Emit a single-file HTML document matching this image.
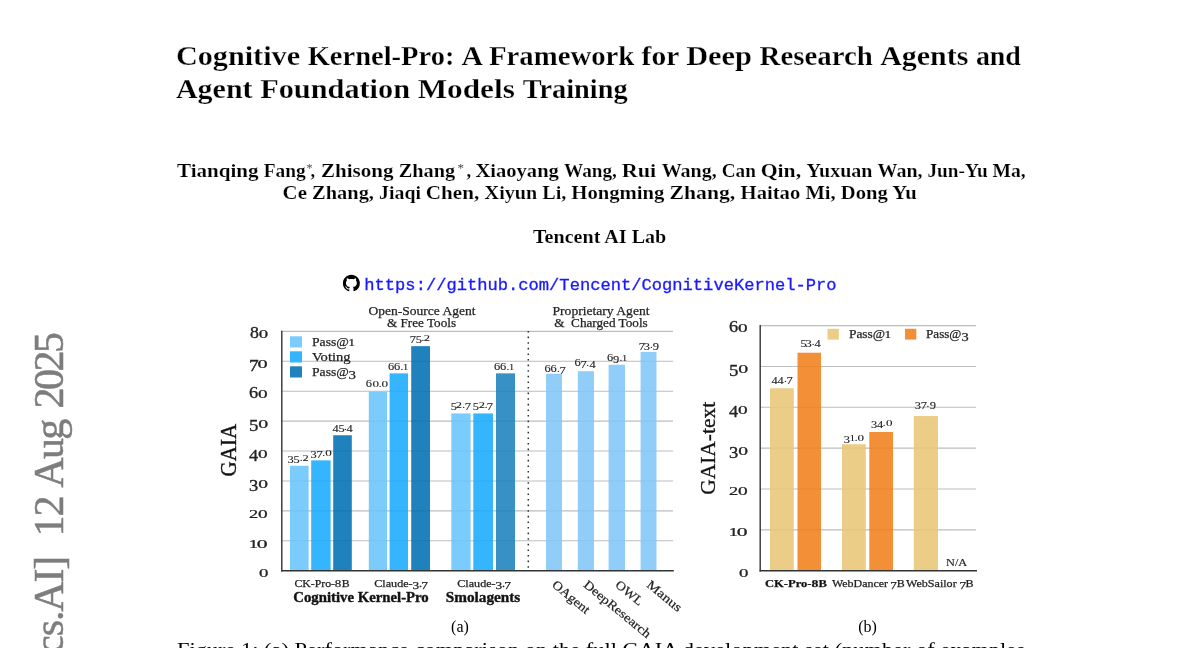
<!DOCTYPE html>
<html lang="en">
<head>
<meta charset="utf-8">
<title>Cognitive Kernel-Pro</title>
<style>
html,body{margin:0;padding:0;background:#fff;overflow:hidden}
body{width:1200px;height:648px;position:relative;font-family:"Liberation Serif", serif}
svg{display:block;position:absolute;left:0;top:0;font-family:"Liberation Serif", serif}
.t{position:absolute;white-space:nowrap;line-height:0;height:0;color:#222;transform-origin:0 0;-webkit-text-stroke:.25px #222}
.t.m{transform-origin:50% 0}
.t.e{transform-origin:100% 0}
.t span{display:inline-block;line-height:0;transform-origin:50% var(--b)}
.n0{margin:0 0.040em;transform:scale(1.16,.77)}
.n1{margin:0 -0.045em;transform:scale(1.0,.77)}
.n2{margin:0 0.015em;transform:scale(1.1,.77)}
.n3{margin:0 0.010em;transform:translateY(.215em) scaleX(1.1)}
.n4{margin:0 0.018em;transform:translateY(.215em) scaleX(1.1)}
.n5{margin:0 0.000em;transform:translateY(.215em) scaleX(1.1)}
.n6{margin:0 0.018em;transform:scaleX(1.1)}
.n7{margin:0 -0.012em;transform:translateY(.215em) scaleX(1.1)}
.n8{margin:0 0.032em;transform:scaleX(1.1)}
.n9{margin:0 0.018em;transform:translateY(.215em) scaleX(1.1)}
</style>
</head>
<body>
<svg width="1200" height="648" viewBox="0 0 1200 648">
<rect width="1200" height="648" fill="#fff"/>
<g id="paper">
<text y="64.8" font-size="27.5" font-weight="bold" stroke="#fff" stroke-width="0.25" xml:space="preserve"><tspan x="175.9" textLength="131.75" lengthAdjust="spacingAndGlyphs">Cognitive </tspan><tspan x="307.65" textLength="153.95" lengthAdjust="spacingAndGlyphs">Kernel-Pro: </tspan><tspan x="461.6" textLength="27.3" lengthAdjust="spacingAndGlyphs">A </tspan><tspan x="488.9" textLength="152.7" lengthAdjust="spacingAndGlyphs">Framework </tspan><tspan x="641.6" textLength="44.6" lengthAdjust="spacingAndGlyphs">for </tspan><tspan x="686.2" textLength="73.4" lengthAdjust="spacingAndGlyphs">Deep </tspan><tspan x="759.6" textLength="120.55" lengthAdjust="spacingAndGlyphs">Research </tspan><tspan x="880.15" textLength="95.75" lengthAdjust="spacingAndGlyphs">Agents </tspan><tspan x="975.9" textLength="45" lengthAdjust="spacingAndGlyphs">and</tspan></text>
<text y="98.2" font-size="27.5" font-weight="bold" stroke="#fff" stroke-width="0.25" xml:space="preserve"><tspan x="175.9" textLength="84.25" lengthAdjust="spacingAndGlyphs">Agent </tspan><tspan x="260.15" textLength="157.5" lengthAdjust="spacingAndGlyphs">Foundation </tspan><tspan x="417.65" textLength="105.0" lengthAdjust="spacingAndGlyphs">Models </tspan><tspan x="522.65" textLength="105.0" lengthAdjust="spacingAndGlyphs">Training</tspan></text>
<text y="176.5" font-size="18.3" font-weight="bold" stroke="#fff" stroke-width=".15" xml:space="preserve"><tspan x="177" textLength="86.75" lengthAdjust="spacingAndGlyphs">Tianqing </tspan><tspan x="263.75" textLength="42" lengthAdjust="spacingAndGlyphs">Fang</tspan><tspan x="306.6" dy="-5" font-size="12" font-weight="normal" fill="#444" stroke="none">*</tspan><tspan x="310.6" dy="5">, </tspan><tspan x="321" textLength="77.75" lengthAdjust="spacingAndGlyphs">Zhisong </tspan><tspan x="398.75" textLength="56.5" lengthAdjust="spacingAndGlyphs">Zhang</tspan><tspan x="457.6" dy="-5" font-size="13" font-weight="normal" fill="#444" stroke="none">*</tspan><tspan x="466.4" dy="5">, </tspan><tspan x="475.5" textLength="88.5" lengthAdjust="spacingAndGlyphs">Xiaoyang </tspan><tspan x="564" textLength="57.7" lengthAdjust="spacingAndGlyphs">Wang, </tspan><tspan x="621.7" textLength="40.0" lengthAdjust="spacingAndGlyphs">Rui </tspan><tspan x="661.7" textLength="60.0" lengthAdjust="spacingAndGlyphs">Wang, </tspan><tspan x="721.7" textLength="39.0" lengthAdjust="spacingAndGlyphs">Can </tspan><tspan x="760.7" textLength="45.8" lengthAdjust="spacingAndGlyphs">Qin, </tspan><tspan x="806.5" textLength="71.0" lengthAdjust="spacingAndGlyphs">Yuxuan </tspan><tspan x="877.5" textLength="50.0" lengthAdjust="spacingAndGlyphs">Wan, </tspan><tspan x="927.5" textLength="65.0" lengthAdjust="spacingAndGlyphs">Jun-Yu </tspan><tspan x="992.5" textLength="33.25" lengthAdjust="spacingAndGlyphs">Ma,</tspan></text>
<text y="198.5" font-size="18.3" font-weight="bold" stroke="#fff" stroke-width="0.15" xml:space="preserve"><tspan x="282.6" textLength="29.5" lengthAdjust="spacingAndGlyphs">Ce </tspan><tspan x="312.1" textLength="67.0" lengthAdjust="spacingAndGlyphs">Zhang, </tspan><tspan x="379.1" textLength="46.75" lengthAdjust="spacingAndGlyphs">Jiaqi </tspan><tspan x="425.85" textLength="58.75" lengthAdjust="spacingAndGlyphs">Chen, </tspan><tspan x="484.6" textLength="86.7" lengthAdjust="spacingAndGlyphs">Xiyun Li, </tspan><tspan x="571.3" textLength="98.3" lengthAdjust="spacingAndGlyphs">Hongming </tspan><tspan x="669.6" textLength="71" lengthAdjust="spacingAndGlyphs">Zhang, </tspan><tspan x="740.6" textLength="64.8" lengthAdjust="spacingAndGlyphs">Haitao </tspan><tspan x="805.4" textLength="35.45" lengthAdjust="spacingAndGlyphs">Mi, </tspan><tspan x="840.85" textLength="75.75" lengthAdjust="spacingAndGlyphs">Dong Yu</tspan></text>
<text x="533.0" y="243" font-size="18.3" text-anchor="start" font-weight="bold" textLength="133.3" lengthAdjust="spacingAndGlyphs" stroke="#fff" stroke-width=".15">Tencent AI Lab</text>
<g transform="translate(342.9,274.8) scale(1.06)"><path fill="#000" d="M8 0C3.58 0 0 3.58 0 8c0 3.54 2.29 6.53 5.47 7.59.4.07.55-.17.55-.38 0-.19-.01-.82-.01-1.49-2.01.37-2.53-.49-2.69-.94-.09-.23-.48-.94-.82-1.13-.28-.15-.68-.52-.01-.53.63-.01 1.08.58 1.23.82.72 1.21 1.87.87 2.33.66.07-.52.28-.87.51-1.07-1.78-.2-3.64-.89-3.64-3.95 0-.87.31-1.59.82-2.15-.08-.2-.36-1.02.08-2.12 0 0 .67-.21 2.2.82.64-.18 1.32-.27 2-.27s1.36.09 2 .27c1.53-1.04 2.2-.82 2.2-.82.44 1.1.16 1.92.08 2.12.51.56.82 1.27.82 2.15 0 3.07-1.87 3.75-3.65 3.95.29.25.54.73.54 1.48 0 1.07-.01 1.93-.01 2.2 0 .21.15.46.55.38A8.01 8.01 0 0 0 16 8c0-4.42-3.58-8-8-8z"/></g>
<text x="364.3" y="290.3" font-size="16.2" text-anchor="start" fill="#1a1aff" textLength="472.3" lengthAdjust="spacingAndGlyphs" font-family='"Liberation Mono", monospace' stroke="#1a1aff" stroke-width=".3">https://github.com/Tencent/CognitiveKernel-Pro</text>
<text x="460" y="632" font-size="16" text-anchor="middle">(a)</text>
<text x="867.5" y="632" font-size="16" text-anchor="middle">(b)</text>
<text x="177" y="656" font-size="19.6" text-anchor="start" textLength="848" lengthAdjust="spacingAndGlyphs">Figure 1: (a) Performance comparison on the full GAIA development set (number of examples</text>
<text transform="translate(62.8,0) rotate(-90)" font-size="42" fill="#7d7d7d" stroke="#7d7d7d" stroke-width=".5" xml:space="preserve"><tspan x="-990" textLength="311" lengthAdjust="spacing">arXiv:2508.00414v2</tspan><tspan>  </tspan><tspan x="-666.7" textLength="111" lengthAdjust="spacing">[cs.AI]</tspan><tspan>  </tspan><tspan x="-536.5" textLength="41" lengthAdjust="spacing">12</tspan><tspan> </tspan><tspan x="-487.7" textLength="69" lengthAdjust="spacing">Aug</tspan><tspan> </tspan><tspan x="-408.6" textLength="76.7" lengthAdjust="spacing">2025</tspan></text>
</g>
<g id="chartA">
<line x1="281.8" x2="673" y1="540.78" y2="540.78" stroke="#bdbdbd" stroke-width="1.1"/>
<line x1="281.8" x2="673" y1="510.86" y2="510.86" stroke="#bdbdbd" stroke-width="1.1"/>
<line x1="281.8" x2="673" y1="480.94" y2="480.94" stroke="#bdbdbd" stroke-width="1.1"/>
<line x1="281.8" x2="673" y1="451.02" y2="451.02" stroke="#bdbdbd" stroke-width="1.1"/>
<line x1="281.8" x2="673" y1="421.10" y2="421.10" stroke="#bdbdbd" stroke-width="1.1"/>
<line x1="281.8" x2="673" y1="391.18" y2="391.18" stroke="#bdbdbd" stroke-width="1.1"/>
<line x1="281.8" x2="673" y1="361.26" y2="361.26" stroke="#bdbdbd" stroke-width="1.1"/>
<line x1="281.8" x2="673" y1="331.34" y2="331.34" stroke="#bdbdbd" stroke-width="1.1"/>
<line x1="528.3" x2="528.3" y1="331.0" y2="570.70" stroke="#333" stroke-width="1.5" stroke-dasharray="1.6 4"/>
<rect x="290.0" y="465.75" width="18.60" height="104.95" fill="#6ac4fd" fill-opacity="0.88"/>
<rect x="311.2" y="460.37" width="19.40" height="110.33" fill="#19abfe" fill-opacity="0.88"/>
<rect x="333.2" y="435.25" width="18.60" height="135.45" fill="#0071b4" fill-opacity="0.88"/>
<rect x="368.8" y="391.60" width="18.20" height="179.10" fill="#6ac4fd" fill-opacity="0.88"/>
<rect x="389.6" y="373.36" width="18.40" height="197.34" fill="#19abfe" fill-opacity="0.88"/>
<rect x="411.2" y="346.15" width="18.80" height="224.55" fill="#0071b4" fill-opacity="0.88"/>
<rect x="451.3" y="413.43" width="19.30" height="157.27" fill="#6ac4fd" fill-opacity="0.88"/>
<rect x="473.3" y="413.43" width="19.70" height="157.27" fill="#19abfe" fill-opacity="0.88"/>
<rect x="496.0" y="373.36" width="19.00" height="197.34" fill="#1c82bd" fill-opacity="0.88"/>
<rect x="546.0" y="373.75" width="16.00" height="196.95" fill="#82c6f8" fill-opacity="0.88"/>
<rect x="577.8" y="371.21" width="16.20" height="199.49" fill="#82c6f8" fill-opacity="0.88"/>
<rect x="608.6" y="364.75" width="16.40" height="205.95" fill="#82c6f8" fill-opacity="0.88"/>
<rect x="640.6" y="351.89" width="15.90" height="218.81" fill="#82c6f8" fill-opacity="0.88"/>
<line x1="281.8" x2="281.8" y1="330.84" y2="571.40" stroke="#333" stroke-width="1.4"/>
<line x1="281.1" x2="673.8" y1="570.7" y2="570.7" stroke="#333" stroke-width="1.4"/>
<rect x="290" y="336.3" width="12" height="11.2" fill="#7ccbfd"/>
<rect x="290" y="351.3" width="12" height="11.2" fill="#35b5fe"/>
<rect x="290" y="366.3" width="12" height="11.2" fill="#1f82bd"/>
<text transform="translate(551.3,586) rotate(39.5)" font-size="12.6" fill="#222" stroke="#222" stroke-width=".2" textLength="44.8" lengthAdjust="spacingAndGlyphs">OAgent</text>
<text transform="translate(582.8,586) rotate(39.5)" font-size="12.6" fill="#222" stroke="#222" stroke-width=".2" textLength="82.8" lengthAdjust="spacingAndGlyphs">DeepResearch</text>
<text transform="translate(614.5,586) rotate(39.5)" font-size="12.6" fill="#222" stroke="#222" stroke-width=".2" textLength="31.8" lengthAdjust="spacingAndGlyphs">OWL</text>
<text transform="translate(645.8,586) rotate(39.5)" font-size="12.6" fill="#222" stroke="#222" stroke-width=".2" textLength="41.5" lengthAdjust="spacingAndGlyphs">Manus</text>
<text transform="translate(236,450.2) rotate(-90)" text-anchor="middle" font-size="22.5" fill="#111" stroke="#111" stroke-width=".35" textLength="52.6" lengthAdjust="spacingAndGlyphs">GAIA</text>
</g>
<g id="chartB">
<line x1="760.2" x2="976" y1="529.85" y2="529.85" stroke="#bdbdbd" stroke-width="1.1"/>
<line x1="760.2" x2="976" y1="489.00" y2="489.00" stroke="#bdbdbd" stroke-width="1.1"/>
<line x1="760.2" x2="976" y1="448.15" y2="448.15" stroke="#bdbdbd" stroke-width="1.1"/>
<line x1="760.2" x2="976" y1="407.30" y2="407.30" stroke="#bdbdbd" stroke-width="1.1"/>
<line x1="760.2" x2="976" y1="366.45" y2="366.45" stroke="#bdbdbd" stroke-width="1.1"/>
<line x1="760.2" x2="976" y1="325.60" y2="325.60" stroke="#bdbdbd" stroke-width="1.1"/>
<rect x="770" y="388.25" width="23.80" height="182.45" fill="#e9c676" fill-opacity="0.88"/>
<rect x="797.5" y="352.71" width="23.50" height="217.99" fill="#f0801b" fill-opacity="0.88"/>
<rect x="842" y="444.22" width="23.80" height="126.49" fill="#e9c676" fill-opacity="0.88"/>
<rect x="869.3" y="431.96" width="23.70" height="138.74" fill="#f0801b" fill-opacity="0.88"/>
<rect x="913.8" y="416.03" width="24.20" height="154.67" fill="#e9c676" fill-opacity="0.88"/>
<line x1="760.2" x2="760.2" y1="325.10" y2="571.40" stroke="#333" stroke-width="1.4"/>
<line x1="759.5" x2="977" y1="570.7" y2="570.7" stroke="#333" stroke-width="1.4"/>
<rect x="827.5" y="328.8" width="11.3" height="10.8" fill="#eccd86"/>
<rect x="905" y="328.8" width="11.3" height="10.8" fill="#f28f36"/>
<text transform="translate(715,448.3) rotate(-90)" text-anchor="middle" font-size="21.4" fill="#111" stroke="#111" stroke-width=".3" textLength="93" lengthAdjust="spacingAndGlyphs">GAIA-text</text>
</g>
</svg>
<div class="t e" style="left:268.3px;top:572.4px;font-size:16.2px;--b:5px;-webkit-text-stroke-width:0.32px;transform:translateX(-100%) scaleX(1.0027);"><span class="n0">0</span></div>
<div class="t e" style="left:268.3px;top:542.5px;font-size:16.2px;--b:5px;-webkit-text-stroke-width:0.32px;transform:translateX(-100%) scaleX(1.1540);"><span class="n1">1</span><span class="n0">0</span></div>
<div class="t e" style="left:268.3px;top:512.6px;font-size:16.2px;--b:5px;-webkit-text-stroke-width:0.32px;transform:translateX(-100%) scaleX(1.0314);"><span class="n2">2</span><span class="n0">0</span></div>
<div class="t e" style="left:268.3px;top:482.6px;font-size:16.2px;--b:5px;-webkit-text-stroke-width:0.32px;transform:translateX(-100%) scaleX(1.0404);"><span class="n3">3</span><span class="n0">0</span></div>
<div class="t e" style="left:268.3px;top:452.7px;font-size:16.2px;--b:5px;-webkit-text-stroke-width:0.32px;transform:translateX(-100%) scaleX(1.0260);"><span class="n4">4</span><span class="n0">0</span></div>
<div class="t e" style="left:268.3px;top:422.8px;font-size:16.2px;--b:5px;-webkit-text-stroke-width:0.32px;transform:translateX(-100%) scaleX(1.0590);"><span class="n5">5</span><span class="n0">0</span></div>
<div class="t e" style="left:268.3px;top:392.9px;font-size:16.2px;--b:5px;-webkit-text-stroke-width:0.32px;transform:translateX(-100%) scaleX(1.0260);"><span class="n6">6</span><span class="n0">0</span></div>
<div class="t e" style="left:268.3px;top:363.0px;font-size:16.2px;--b:5px;-webkit-text-stroke-width:0.32px;transform:translateX(-100%) scaleX(1.0823);"><span class="n7">7</span><span class="n0">0</span></div>
<div class="t e" style="left:268.3px;top:333.0px;font-size:16.2px;--b:5px;-webkit-text-stroke-width:0.32px;transform:translateX(-100%) scaleX(1.0000);"><span class="n8">8</span><span class="n0">0</span></div>
<div class="t m" style="left:298.3px;top:457.3px;font-size:11.3px;--b:4px;-webkit-text-stroke-width:0.12px;transform:translateX(-50%) scaleX(1.0000);"><span class="n3">3</span><span class="n5">5</span>.<span class="n2">2</span></div>
<div class="t m" style="left:321.3px;top:452.1px;font-size:11.3px;--b:4px;-webkit-text-stroke-width:0.12px;transform:translateX(-50%) scaleX(1.0000);"><span class="n3">3</span><span class="n7">7</span>.<span class="n0">0</span></div>
<div class="t m" style="left:342.5px;top:426.0px;font-size:11.3px;--b:4px;-webkit-text-stroke-width:0.12px;transform:translateX(-50%) scaleX(1.0000);"><span class="n4">4</span><span class="n5">5</span>.<span class="n4">4</span></div>
<div class="t m" style="left:377.1px;top:382.7px;font-size:11.3px;--b:4px;-webkit-text-stroke-width:0.12px;transform:translateX(-50%) scaleX(1.0000);"><span class="n6">6</span><span class="n0">0</span>.<span class="n0">0</span></div>
<div class="t m" style="left:398.2px;top:365.7px;font-size:11.3px;--b:4px;-webkit-text-stroke-width:0.12px;transform:translateX(-50%) scaleX(1.0000);"><span class="n6">6</span><span class="n6">6</span>.<span class="n1">1</span></div>
<div class="t m" style="left:420.4px;top:336.9px;font-size:11.3px;--b:4px;-webkit-text-stroke-width:0.12px;transform:translateX(-50%) scaleX(1.0000);"><span class="n7">7</span><span class="n5">5</span>.<span class="n2">2</span></div>
<div class="t m" style="left:460.5px;top:404.0px;font-size:11.3px;--b:4px;-webkit-text-stroke-width:0.12px;transform:translateX(-50%) scaleX(1.0000);"><span class="n5">5</span><span class="n2">2</span>.<span class="n7">7</span></div>
<div class="t m" style="left:483.0px;top:404.0px;font-size:11.3px;--b:4px;-webkit-text-stroke-width:0.12px;transform:translateX(-50%) scaleX(1.0000);"><span class="n5">5</span><span class="n2">2</span>.<span class="n7">7</span></div>
<div class="t m" style="left:504.2px;top:365.7px;font-size:11.3px;--b:4px;-webkit-text-stroke-width:0.12px;transform:translateX(-50%) scaleX(1.0000);"><span class="n6">6</span><span class="n6">6</span>.<span class="n1">1</span></div>
<div class="t m" style="left:555.0px;top:368.3px;font-size:11.3px;--b:4px;-webkit-text-stroke-width:0.12px;transform:translateX(-50%) scaleX(1.0000);"><span class="n6">6</span><span class="n6">6</span>.<span class="n7">7</span></div>
<div class="t m" style="left:585.0px;top:361.8px;font-size:11.3px;--b:4px;-webkit-text-stroke-width:0.12px;transform:translateX(-50%) scaleX(1.0000);"><span class="n6">6</span><span class="n7">7</span>.<span class="n4">4</span></div>
<div class="t m" style="left:617.2px;top:356.9px;font-size:11.3px;--b:4px;-webkit-text-stroke-width:0.12px;transform:translateX(-50%) scaleX(1.0000);"><span class="n6">6</span><span class="n9">9</span>.<span class="n1">1</span></div>
<div class="t m" style="left:648.7px;top:343.6px;font-size:11.3px;--b:4px;-webkit-text-stroke-width:0.12px;transform:translateX(-50%) scaleX(1.0000);"><span class="n7">7</span><span class="n3">3</span>.<span class="n9">9</span></div>
<div class="t" style="left:312px;top:341.5px;font-size:13.4px;--b:4px;transform:scaleX(1.0199);">Pass@<span class="n1">1</span></div>
<div class="t" style="left:312px;top:356.5px;font-size:13.4px;--b:4px;transform:scaleX(1.0850);">Voting</div>
<div class="t" style="left:312px;top:371.5px;font-size:13.4px;--b:4px;transform:scaleX(1.0207);">Pass@<span class="n3">3</span></div>
<div class="t m" style="left:421.5px;top:310.8px;font-size:13.2px;--b:4px;transform:translateX(-50%) scaleX(1.0251);">Open-Source Agent</div>
<div class="t m" style="left:421.5px;top:323.0px;font-size:13.2px;--b:4px;transform:translateX(-50%) scaleX(1.0000);">&amp; Free Tools</div>
<div class="t m" style="left:601px;top:310.8px;font-size:13.2px;--b:4px;transform:translateX(-50%) scaleX(1.0305);">Proprietary Agent</div>
<div class="t m" style="left:601px;top:323.0px;font-size:13.2px;--b:4px;transform:translateX(-50%) scaleX(1.0000);">&amp;&nbsp; Charged Tools</div>
<div class="t m" style="left:322px;top:583px;font-size:11px;--b:4px;transform:translateX(-50%) scaleX(1.0696);">CK-Pro-<span class="n8">8</span>B</div>
<div class="t m" style="left:401px;top:583px;font-size:11px;--b:4px;transform:translateX(-50%) scaleX(1.1020);">Claude-<span class="n3">3</span>.<span class="n7">7</span></div>
<div class="t m" style="left:483.5px;top:583px;font-size:11px;--b:4px;transform:translateX(-50%) scaleX(1.1020);">Claude-<span class="n3">3</span>.<span class="n7">7</span></div>
<div class="t m" style="left:361.2px;top:598.0px;font-size:13.8px;--b:4px;font-weight:bold;color:#111;-webkit-text-stroke-width:0.4px;transform:translateX(-50%) scaleX(1.0705);">Cognitive Kernel-Pro</div>
<div class="t m" style="left:483px;top:598.0px;font-size:13.8px;--b:4px;font-weight:bold;color:#111;-webkit-text-stroke-width:0.4px;transform:translateX(-50%) scaleX(1.1042);">Smolagents</div>
<div class="t e" style="left:747.5px;top:572.1px;font-size:16.2px;--b:5px;-webkit-text-stroke-width:0.32px;transform:translateX(-100%) scaleX(1.0027);"><span class="n0">0</span></div>
<div class="t e" style="left:747.5px;top:531.2px;font-size:16.2px;--b:5px;-webkit-text-stroke-width:0.32px;transform:translateX(-100%) scaleX(1.1540);"><span class="n1">1</span><span class="n0">0</span></div>
<div class="t e" style="left:747.5px;top:490.4px;font-size:16.2px;--b:5px;-webkit-text-stroke-width:0.32px;transform:translateX(-100%) scaleX(1.0314);"><span class="n2">2</span><span class="n0">0</span></div>
<div class="t e" style="left:747.5px;top:449.6px;font-size:16.2px;--b:5px;-webkit-text-stroke-width:0.32px;transform:translateX(-100%) scaleX(1.0404);"><span class="n3">3</span><span class="n0">0</span></div>
<div class="t e" style="left:747.5px;top:408.7px;font-size:16.2px;--b:5px;-webkit-text-stroke-width:0.32px;transform:translateX(-100%) scaleX(1.0260);"><span class="n4">4</span><span class="n0">0</span></div>
<div class="t e" style="left:747.5px;top:367.9px;font-size:16.2px;--b:5px;-webkit-text-stroke-width:0.32px;transform:translateX(-100%) scaleX(1.0590);"><span class="n5">5</span><span class="n0">0</span></div>
<div class="t e" style="left:747.5px;top:327.0px;font-size:16.2px;--b:5px;-webkit-text-stroke-width:0.32px;transform:translateX(-100%) scaleX(1.0260);"><span class="n6">6</span><span class="n0">0</span></div>
<div class="t m" style="left:782.1px;top:377.5px;font-size:11.3px;--b:4px;-webkit-text-stroke-width:0.12px;transform:translateX(-50%) scaleX(1.0000);"><span class="n4">4</span><span class="n4">4</span>.<span class="n7">7</span></div>
<div class="t m" style="left:810.5px;top:340.8px;font-size:11.3px;--b:4px;-webkit-text-stroke-width:0.12px;transform:translateX(-50%) scaleX(1.0000);"><span class="n5">5</span><span class="n3">3</span>.<span class="n4">4</span></div>
<div class="t m" style="left:854.2px;top:437.4px;font-size:11.3px;--b:4px;-webkit-text-stroke-width:0.12px;transform:translateX(-50%) scaleX(1.0000);"><span class="n3">3</span><span class="n1">1</span>.<span class="n0">0</span></div>
<div class="t m" style="left:881.5px;top:422.4px;font-size:11.3px;--b:4px;-webkit-text-stroke-width:0.12px;transform:translateX(-50%) scaleX(1.0000);"><span class="n3">3</span><span class="n4">4</span>.<span class="n0">0</span></div>
<div class="t m" style="left:925.2px;top:403.4px;font-size:11.3px;--b:4px;-webkit-text-stroke-width:0.12px;transform:translateX(-50%) scaleX(1.0000);"><span class="n3">3</span><span class="n7">7</span>.<span class="n9">9</span></div>
<div class="t" style="left:848.6px;top:334.3px;font-size:13.2px;--b:4px;transform:scaleX(1.0142);">Pass@<span class="n1">1</span></div>
<div class="t" style="left:926.1px;top:334.3px;font-size:13.2px;--b:4px;transform:scaleX(0.9964);">Pass@<span class="n3">3</span></div>
<div class="t" style="left:765px;top:582.6px;font-size:11px;--b:4px;font-weight:bold;color:#111;transform:scaleX(1.1425);">CK-Pro-<span class="n8">8</span>B</div>
<div class="t" style="left:831.8px;top:582.6px;font-size:11px;--b:4px;transform:scaleX(1.0853);">WebDancer <span class="n7">7</span>B</div>
<div class="t" style="left:906.3px;top:582.6px;font-size:11px;--b:4px;transform:scaleX(1.0973);">WebSailor <span class="n7">7</span>B</div>
<div class="t" style="left:946.3px;top:563px;font-size:9.5px;--b:3px;-webkit-text-stroke-width:0.1px;transform:scaleX(1.2947);">N/A</div>
</body>
</html>
